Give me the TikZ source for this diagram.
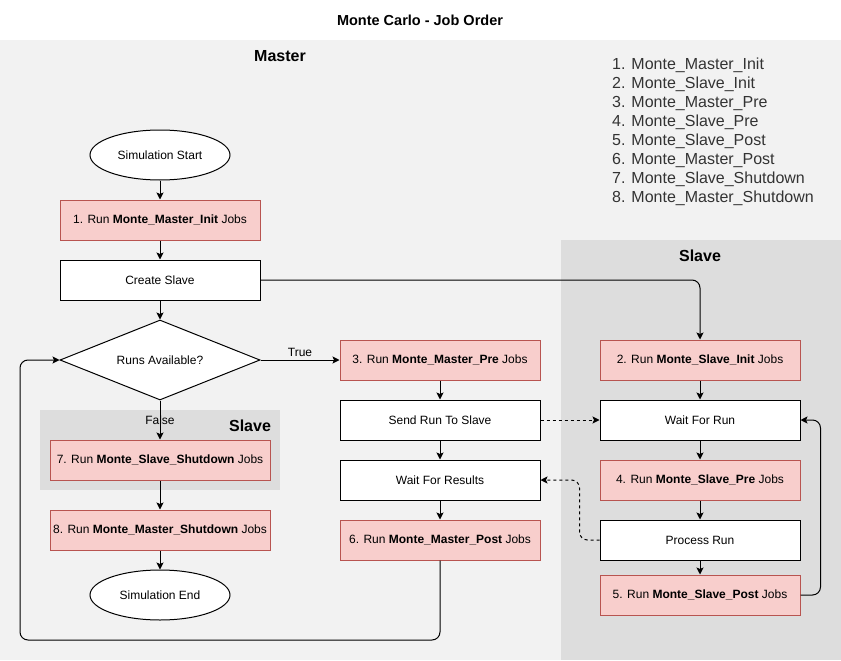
\documentclass[tikz,border=0pt]{standalone}
\usepackage{fontspec}
\setmainfont{Liberation Sans}
\usetikzlibrary{arrows.meta,shapes.geometric}

\definecolor{jobfill}{HTML}{F8CECC}
\definecolor{jobline}{HTML}{B85450}
\definecolor{mastergray}{HTML}{F2F2F2}
\definecolor{slavegray}{HTML}{DDDDDD}
\definecolor{listgray}{HTML}{333333}

\begin{document}
\begin{tikzpicture}[x=1pt, y=-1pt,
    every node/.style={font=\fontsize{12}{14}\selectfont},
    box/.style={draw=black, fill=white, line width=1pt, inner sep=0pt,
        minimum width=200pt, minimum height=40pt},
    job/.style={box, draw=jobline, fill=jobfill},
    term/.style={ellipse, draw=black, fill=white, line width=1pt,
        minimum width=140pt, minimum height=50pt, inner sep=0pt},
    lane/.style={font=\bfseries\fontsize{16}{18}\selectfont},
    listtxt/.style={anchor=west, text=listgray, inner sep=0pt,
        font=\fontsize{16}{18}\selectfont},
    arr/.style={-{Stealth[length=7pt,width=7pt,inset=1.5pt]}, line width=1pt},
    dsh/.style={arr, dashed}]
    \useasboundingbox (0,0) rectangle (841,661);
    % lanes
    \fill[mastergray] (0,40) rectangle (841,660);
    \fill[slavegray] (561,240) rectangle (841,660);
    \fill[slavegray] (40,410) rectangle (280,490);
    \node[font=\bfseries\fontsize{14.5}{16}\selectfont] (title) at (420,20) {Monte Carlo - Job Order};
    \node[lane] (master) at (280,56) {Master};
    \node[lane] (slave) at (700,256) {Slave};
    \node[lane] (slavein) at (250,426) {Slave};
    % job order list
    \foreach \t [count=\i] in {Monte\_Master\_Init, Monte\_Slave\_Init,
        Monte\_Master\_Pre, Monte\_Slave\_Pre, Monte\_Slave\_Post,
        Monte\_Master\_Post, Monte\_Slave\_Shutdown, Monte\_Master\_Shutdown}
        \node[listtxt] (l\i) at (612,{46.5+19*\i}) {\i. \t};
    % master
    \node[term] (start) at (160,155) {Simulation Start};
    \node[job] (j1) at (160,220) {1. Run \textbf{Monte\_Master\_Init} Jobs};
    \node[box] (cs) at (160,280) {Create Slave};
    \node[diamond, aspect=2.5, draw=black, fill=white, line width=1pt, inner sep=0pt,
        minimum width=200pt, minimum height=80pt] (runs) at (160,360) {Runs Available?};
    \node[job, minimum width=220pt] (j7) at (160,460) {7. Run \textbf{Monte\_Slave\_Shutdown} Jobs};
    \node[job, minimum width=220pt] (j8) at (160,530) {8. Run \textbf{Monte\_Master\_Shutdown} Jobs};
    \node[term] (stop) at (160,595) {Simulation End};
    \node[job] (j3) at (440,360) {3. Run \textbf{Monte\_Master\_Pre} Jobs};
    \node[box] (send) at (440,420) {Send Run To Slave};
    \node[box] (wres) at (440,480) {Wait For Results};
    \node[job] (j6) at (440,540) {6. Run \textbf{Monte\_Master\_Post} Jobs};
    % slave
    \node[job] (j2) at (700,360) {2. Run \textbf{Monte\_Slave\_Init} Jobs};
    \node[box] (wrun) at (700,420) {Wait For Run};
    \node[job] (j4) at (700,480) {4. Run \textbf{Monte\_Slave\_Pre} Jobs};
    \node[box] (proc) at (700,540) {Process Run};
    \node[job] (j5) at (700,595) {5. Run \textbf{Monte\_Slave\_Post} Jobs};
    % flow
    \draw[arr] (start) -- (j1);
    \draw[arr] (j1) -- (cs);
    \draw[arr] (cs) -- (runs);
    \draw[arr] (runs.south) -- node[pos=0.5] (false) {False} (j7);
    \draw[arr] (j7) -- (j8);
    \draw[arr] (j8) -- (stop);
    \draw[arr] (runs.east) -- node[above, pos=0.5] (true) {True} (j3);
    \draw[arr] (j3) -- (send);
    \draw[arr] (send) -- (wres);
    \draw[arr] (wres) -- (j6);
    \draw[arr, rounded corners=8pt] (j6.south) |- (20,640) |- (runs.west);
    \draw[arr, rounded corners=8pt] (cs.east) -| (j2.north);
    \draw[arr] (j2) -- (wrun);
    \draw[arr] (wrun) -- (j4);
    \draw[arr] (j4) -- (proc);
    \draw[arr] (proc) -- (j5);
    \draw[arr, rounded corners=8pt] (j5.east) -- ++(20,0) |- (wrun.east);
    \draw[dsh] (send) -- (wrun);
    \draw[dsh, rounded corners=8pt] (proc.west) -- ++(-20,0) |- (wres.east);
\end{tikzpicture}
\end{document}
